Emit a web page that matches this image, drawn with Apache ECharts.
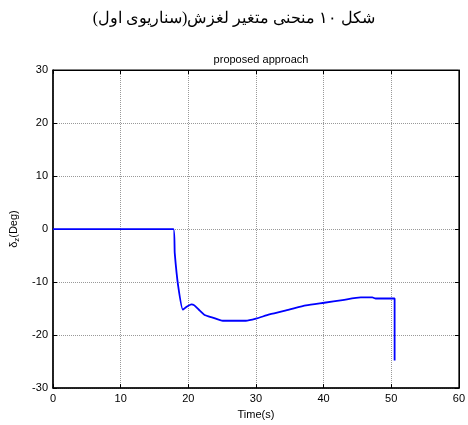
<!DOCTYPE html>
<html>
<head>
<meta charset="utf-8">
<script src="https://cdn.jsdelivr.net/npm/echarts@6/dist/echarts.min.js"></script>
<style>
  html, body { margin: 0; padding: 0; background: #fff; }
  #chart { width: 468px; height: 425px; }
</style>
</head>
<body>
<div id="chart"></div>
<script>
// Slip variable over time (scenario 1), proposed approach
const timeS = [0, 17.8, 18.0, 18.5, 19.2, 19.7, 20.45, 20.9, 21.7, 22.4, 23.6, 25.1, 28.5, 30.0, 32.0, 34.9, 37.4, 40.1, 42.8, 45.5, 47.2, 47.7, 50.5, 50.5];
const deltaZ = [0, 0, -4.6, -10.7, -15.2, -14.7, -14.2, -14.4, -15.4, -16.2, -16.7, -17.3, -17.3, -16.9, -16.1, -15.2, -14.4, -13.9, -13.4, -12.9, -12.9, -13.1, -13.1, -24.8];
const xTicks = [0, 10, 20, 30, 40, 50, 60];
const yTicks = [-30, -20, -10, 0, 10, 20, 30];

const points = timeS.map((t, i) => [t, deltaZ[i]]);
const tickFont = { fontFamily: 'Liberation Sans, Arial, sans-serif', fontSize: 11, color: '#000' };

const chart = echarts.init(document.getElementById('chart'), null, { renderer: 'canvas' });
chart.setOption({
  animation: false,
  backgroundColor: '#fff',
  title: [
    {
      text: 'شکل ۱۰ منحنی متغیر لغزش(سناریوی اول)',
      left: 'center', top: 6,
      textStyle: { fontFamily: 'Liberation Serif, Times New Roman, DejaVu Serif, serif', fontSize: 16, fontWeight: 'normal', color: '#000' }
    },
    {
      text: 'proposed approach',
      left: 256, textAlign: 'center', top: 49,
      textStyle: { fontFamily: 'Liberation Sans, Arial, sans-serif', fontSize: 11, fontWeight: 'normal', color: '#000' }
    }
  ],
  grid: { left: 53, right: 8, top: 70, bottom: 32, show: true, borderColor: '#000', borderWidth: 1 },
  xAxis: [
    {
      type: 'value', min: 0, max: 60, interval: 10,
      name: 'Time(s)', nameLocation: 'middle', nameGap: 16,
      nameTextStyle: tickFont,
      axisLine: { show: true, onZero: false, lineStyle: { color: '#000', width: 1.5 } },
      axisTick: { show: true, inside: true, length: 4, lineStyle: { color: '#000' } },
      axisLabel: Object.assign({ margin: 5, customValues: xTicks }, tickFont),
      splitLine: { show: true, lineStyle: { color: '#999', type: [1, 1], width: 1 } }
    },
    {
      type: 'value', min: 0, max: 60, interval: 10, position: 'top',
      axisLine: { show: true, onZero: false, lineStyle: { color: '#000', width: 1 } },
      axisTick: { show: true, inside: true, length: 4, lineStyle: { color: '#000' } },
      axisLabel: { show: false }, splitLine: { show: false }
    }
  ],
  yAxis: [
    {
      type: 'value', min: -30, max: 30, interval: 10,
      name: '{d|δ}{s|z}{d|(Deg)}', nameLocation: 'middle', nameGap: 32,
      nameTextStyle: {
        rich: {
          d: { fontFamily: 'Liberation Sans, Arial, sans-serif', fontSize: 11, color: '#000' },
          s: { fontFamily: 'Liberation Sans, Arial, sans-serif', fontSize: 8, color: '#000', verticalAlign: 'bottom', padding: [6, 0, 0, 0] }
        }
      },
      axisLine: { show: true, onZero: false, lineStyle: { color: '#000', width: 1.5 } },
      axisTick: { show: true, inside: true, length: 4, lineStyle: { color: '#000' } },
      axisLabel: Object.assign({ margin: 5, customValues: yTicks }, tickFont),
      splitLine: { show: true, lineStyle: { color: '#999', type: [1, 1], width: 1 } }
    },
    {
      type: 'value', min: -30, max: 30, interval: 10, position: 'right',
      axisLine: { show: true, onZero: false, lineStyle: { color: '#000', width: 1 } },
      axisTick: { show: true, inside: true, length: 4, lineStyle: { color: '#000' } },
      axisLabel: { show: false }, splitLine: { show: false }
    }
  ],
  series: [
    {
      type: 'line', data: points, showSymbol: false, smooth: 0.2,
      lineStyle: { color: '#0000ff', width: 1.8 },
      xAxisIndex: 0, yAxisIndex: 0
    }
  ]
});
</script>
</body>
</html>
